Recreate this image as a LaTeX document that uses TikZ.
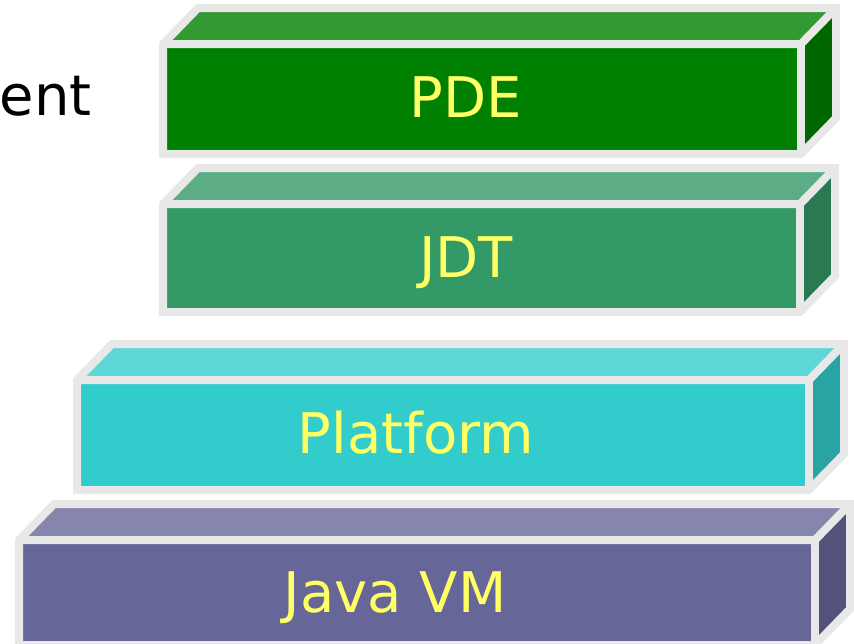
\documentclass[tikz,border=0pt]{standalone}
\usepackage{fontspec}
\setmainfont{DejaVu Sans}
\usepackage{tikz}
\usetikzlibrary{
	positioning
}

\definecolor{edgegray}{RGB}{232,232,232}
\definecolor{labelyellow}{RGB}{255,255,102}
\definecolor{pdeFront}{RGB}{0,128,0}
\definecolor{pdeTop}{RGB}{51,153,51}
\definecolor{pdeSide}{RGB}{0,102,0}
\definecolor{jdtFront}{RGB}{51,153,102}
\definecolor{jdtTop}{RGB}{92,173,133}
\definecolor{jdtSide}{RGB}{41,122,82}
\definecolor{platFront}{RGB}{51,204,204}
\definecolor{platTop}{RGB}{92,214,214}
\definecolor{platSide}{RGB}{41,163,163}
\definecolor{jvmFront}{RGB}{102,102,153}
\definecolor{jvmTop}{RGB}{133,133,173}
\definecolor{jvmSide}{RGB}{82,82,122}

% one layer of the stack: #1,#2 front top-left, #3,#4 front bottom-right, #5 colour prefix
\newcommand{\stackbox}[5]{
	\fill[#5Front] (#1,#2) rectangle (#3,#4);
	\fill[#5Top]   (#1,#2) -- ++(35,-36) -- (#3+35,#2-36) -- (#3,#2) -- cycle;
	\fill[#5Side]  (#3,#2) -- ++(35,-36) -- (#3+35,#4-36) -- (#3,#4) -- cycle;
	\draw[edge] (#1,#4) -- (#1,#2) -- ++(35,-36) -- (#3+35,#2-36)
		-- (#3+35,#4-36) -- (#3,#4) -- cycle;
	\draw[edge] (#1,#2) -- (#3,#2) -- (#3+35,#2-36);
	\draw[edge] (#3,#2) -- (#3,#4);
}

\begin{document}
\begin{tikzpicture}[
	x=1pt, y=-1pt,
	edge/.style={draw=edgegray, line width=8pt, line join=miter},
	caption/.style={text=labelyellow, font=\fontsize{56}{60}\selectfont, anchor=base, inner sep=0pt}
]
	\useasboundingbox (0,0) rectangle (854,643);

	\stackbox{163}{44}{801}{154}{pde}
	\stackbox{163}{204}{800}{312}{jdt}
	\stackbox{77}{380}{809}{490}{plat}
	\stackbox{19}{540}{815}{645}{jvm}

	\node[caption] (pde)  at (466,117) {PDE};
	\node[caption] (jdt)  at (466,277) {JDT};
	\node[caption] (plat) at (416,453) {Platform};
	\node[caption] (jvm)  at (395,612) {Java VM};

	\node[anchor=base east, inner sep=0pt, font=\fontsize{56}{60}\selectfont] (env) at (92,115) {ent};
\end{tikzpicture}
\end{document}
